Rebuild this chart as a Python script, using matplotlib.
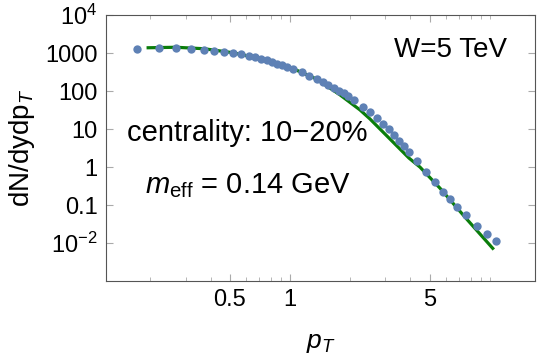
import matplotlib.pyplot as plt
import numpy as np
from matplotlib.ticker import NullFormatter

plt.rcParams['font.family'] = ['Liberation Sans', 'DejaVu Sans']
plt.rcParams['mathtext.fontset'] = 'custom'
plt.rcParams['mathtext.rm'] = 'Liberation Sans'
plt.rcParams['mathtext.it'] = 'Liberation Sans:italic'

# data points (pT, dN/dydpT)
pt_data = [0.171, 0.221, 0.270, 0.319, 0.370, 0.418, 0.469, 0.519, 0.569, 0.622,
           0.671, 0.719, 0.767, 0.816, 0.864, 0.912, 0.969, 1.039, 1.144, 1.249,
           1.360, 1.457, 1.554, 1.654, 1.752, 1.862, 1.956, 2.097, 2.317, 2.512,
           2.714, 2.908, 3.126, 3.323, 3.520, 3.728, 3.936, 4.300, 4.786, 5.328,
           5.801, 6.310, 6.839, 7.612, 8.642, 9.66, 10.72]
dn_data = [1299, 1380, 1355, 1299, 1222, 1150, 1063, 1000, 919, 849,
           765, 707, 653, 589, 531, 482, 427, 378, 308, 252,
           206, 175, 146, 121, 103, 87.9, 73.3, 57.4, 38.9, 27.7,
           19.2, 13.6, 9.85, 6.97, 4.93, 3.57, 2.48, 1.46, 0.748, 0.393,
           0.222, 0.140, 0.0892, 0.0562, 0.0288, 0.0177, 0.0111]

# model curve
pt_fit = [0.195, 0.269, 0.372, 0.519, 0.716, 1.0, 1.349, 1.778, 2.239, 2.512,
          3.162, 3.936, 4.467, 5.623, 7.586, 10.33]
dn_fit = [1380, 1422, 1299, 1018, 707, 422, 210, 79.3, 31.8, 18.4,
          5.46, 1.72, 0.996, 0.278, 0.0449, 0.00724]

fig = plt.figure(figsize=(5.42, 3.59), dpi=100)
ax = fig.add_axes([0.1956, 0.2173, 0.7914, 0.7407])

ax.plot(pt_fit, dn_fit, color='#0a7d0a', lw=2.3, zorder=2)
ax.plot(pt_data, dn_data, 'o', color='#5e81b5', markersize=6, markeredgewidth=0, zorder=3)

ax.set_xscale('log')
ax.set_yscale('log')
ax.set_xlim(0.12, 16.8)
ax.set_ylim(1e-3, 1e4)

ax.set_xticks([0.5, 1, 5])
ax.set_xticklabels(['0.5', '1', '5'])
ax.set_xticks([0.2, 0.3, 0.4, 0.6, 0.7, 0.8, 0.9, 2, 3, 4, 6, 7, 8, 9, 10], minor=True)
ax.xaxis.set_minor_formatter(NullFormatter())

ax.set_yticks([1e4, 1e3, 100, 10, 1, 0.1, 0.01])
ax.set_yticklabels(['$10^4$', '1000', '100', '10', '1', '0.1', '$10^{-2}$'])
ax.yaxis.set_minor_formatter(NullFormatter())

for s in ax.spines.values():
    s.set_color('#555555')
ax.tick_params(which='both', direction='in', top=True, right=True, color='#aaaaaa',
               labelsize=17, pad=6)
ax.tick_params(which='major', length=5)
ax.tick_params(which='minor', length=3)

ax.set_xlabel('$p_T$', fontsize=19, labelpad=14)
ax.set_ylabel('dN/dydp$_T$', fontsize=20, labelpad=6)

ax.text(0.935, 0.87, 'W=5 TeV', transform=ax.transAxes, fontsize=20, ha='right', va='center')
ax.text(0.05, 0.555, 'centrality: 10\u221220%', transform=ax.transAxes, fontsize=21, va='center')
ax.text(0.09, 0.36, '$m_{\\rm eff}$ = 0.14 GeV', transform=ax.transAxes, fontsize=21, va='center')

fig.savefig('out.png', dpi=100)
